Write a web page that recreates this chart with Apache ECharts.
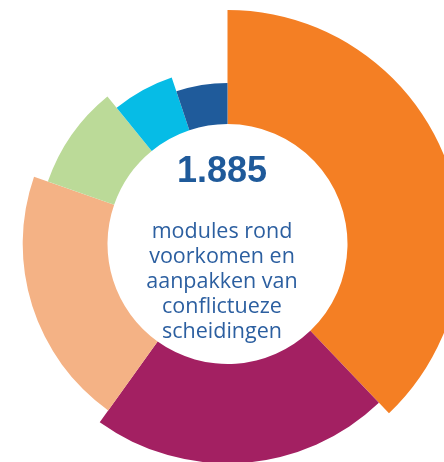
<!DOCTYPE html>
<html>
<head>
<meta charset="utf-8">
<script src="https://cdn.jsdelivr.net/npm/echarts@6/dist/echarts.min.js"></script>
<style>
  html, body { margin: 0; padding: 0; background: #fff; }
  #chart { width: 444px; height: 462px; }
</style>
</head>
<body>
<div id="chart"></div>
<script>
// slice values (sum = total shown in the middle)
const categories = ['a', 'b', 'c', 'd', 'e', 'f'];
const values = [714, 415, 385, 166, 108, 97];
const colors = ['#F47F24', '#A32062', '#F4B285', '#BBDA98', '#06BCE6', '#1F5B9B'];
const totalLabel = '1.885';
const captionLines = ['modules rond', 'voorkomen en', 'aanpakken van', 'conflictueze', 'scheidingen'];

const center = [227.5, 244];
const innerR = 120;

const chart = echarts.init(document.getElementById('chart'));

// one pie per slice, every pie has the full data so the angles line up,
// only its own slice is painted -> each slice gets its own outer radius
const series = categories.map((c, i) => ({
  type: 'pie',
  center: center,
  radius: [innerR, 234 - i * 14.6],
  startAngle: 90,
  clockwise: true,
  silent: true,
  animation: false,
  label: { show: false },
  labelLine: { show: false },
  emphasis: { disabled: true },
  data: categories.map((name, j) => ({
    name: name,
    value: values[j],
    itemStyle: { color: j === i ? colors[j] : 'rgba(0,0,0,0)', borderWidth: 0 }
  }))
}));

const option = {
  backgroundColor: '#fff',
  series: series,
  graphic: [
    {
      type: 'text',
      x: 222,
      y: 172,
      style: {
        text: totalLabel,
        fill: '#1F5A9A',
        font: 'bold 36px "Liberation Sans", Arial, sans-serif',
        textAlign: 'center',
        textVerticalAlign: 'middle'
      }
    },
    {
      type: 'text',
      x: 222,
      y: 219,
      style: {
        text: captionLines.join('\n'),
        fill: '#2C5FA0',
        font: '21.5px "Open Sans", sans-serif',
        lineHeight: 25,
        textAlign: 'center',
        textVerticalAlign: 'top'
      }
    }
  ]
};

chart.setOption(option);
</script>
</body>
</html>
